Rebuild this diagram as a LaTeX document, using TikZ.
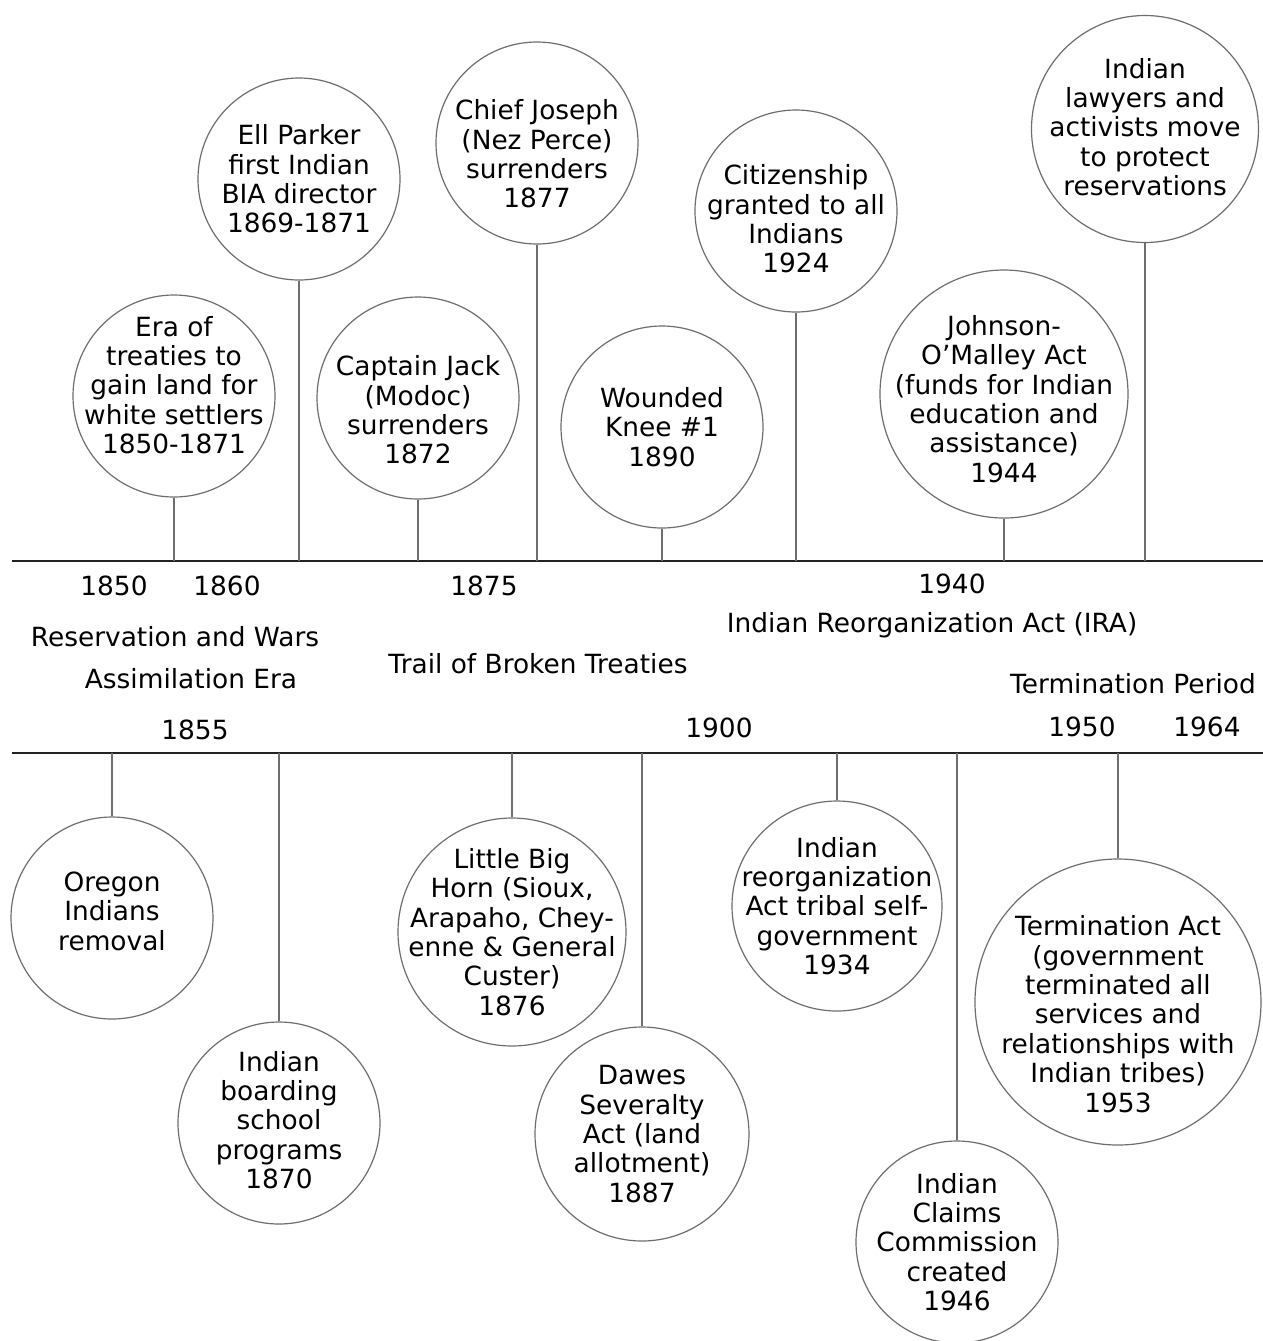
\documentclass[tikz,border=0pt]{standalone}
\usepackage{fontspec}
\setmainfont{DejaVu Sans}
\usetikzlibrary{positioning}
\definecolor{ringgray}{RGB}{110,110,110}
\definecolor{axisblack}{RGB}{35,35,35}

\begin{document}
\begin{tikzpicture}[x=0.5pt, y=-0.5pt,
  event/.style={circle, draw=ringgray, line width=0.6pt, fill=white,
    inner sep=0pt, minimum size=#1},
  event/.default=101pt,
  eventtext/.style={align=center, inner sep=0pt, font=\fontsize{13.2}{14.7}\selectfont},
  stem/.style={draw=ringgray, line width=0.7pt},
  timeline/.style={draw=axisblack, line width=1.3pt},
  tag/.style={inner sep=0pt, font=\fontsize{13.2}{14.7}\selectfont}]

  \useasboundingbox[fill=white] (0,0) rectangle (1263,1341);

  % the two time lines
  \coordinate (topL) at (12,561);
  \coordinate (topR) at (1263,561);
  \coordinate (botL) at (12,753);
  \coordinate (botR) at (1263,753);
  \draw[timeline] (topL) -- (topR);
  \draw[timeline] (botL) -- (botR);

  % events above
  \node[event, label={[eventtext, yshift=5.5pt]center:{Era of\\treaties to\\gain land for\\white settlers\\1850-1871}}] (era) at (174,396) {};
  \node[event, label={[eventtext]center:{Ell Parker\\first Indian\\BIA director\\1869-1871}}] (parker) at (299,179) {};
  \node[event, label={[eventtext, yshift=-6pt]center:{Captain Jack\\(Modoc)\\surrenders\\1872}}] (jack) at (418,398) {};
  \node[event, label={[eventtext, yshift=-5.5pt]center:{Chief Joseph\\(Nez Perce)\\surrenders\\1877}}] (joseph) at (537,143) {};
  \node[event, label={[eventtext]center:{Wounded\\Knee \#1\\1890}}] (knee) at (662,427) {};
  \node[event, label={[eventtext, yshift=-4pt]center:{Citizenship\\granted to all\\Indians\\1924}}] (citizen) at (796,211) {};
  \node[event=124pt, label={[eventtext, yshift=-2.5pt]center:{Johnson-\\O'Malley Act\\(funds for Indian\\education and\\assistance)\\1944}}] (omalley) at (1004,394) {};
  \node[event=113.5pt, label={[eventtext, yshift=1pt]center:{Indian\\lawyers and\\activists move\\to protect\\reservations}}] (lawyers) at (1145,129) {};

  % events below
  \node[event, label={[eventtext, yshift=3.5pt]center:{Oregon\\Indians\\removal}}] (oregon) at (112,918) {};
  \node[event, label={[eventtext, yshift=1.5pt]center:{Indian\\boarding\\school\\programs\\1870}}] (boarding) at (279,1123) {};
  \node[event=114pt, label={[eventtext]center:{Little Big\\Horn (Sioux,\\Arapaho, Chey-\\enne \& General\\Custer)\\1876}}] (bighorn) at (512,932) {};
  \node[event=107pt, label={[eventtext]center:{Dawes\\Severalty\\Act (land\\allotment)\\1887}}] (dawes) at (642,1134) {};
  \node[event=105pt, label={[eventtext]center:{Indian\\reorganization\\Act tribal self-\\government\\1934}}] (reorg) at (837,906) {};
  \node[event, label={[eventtext]center:{Indian\\Claims\\Commission\\created\\1946}}] (claims) at (957,1242) {};
  \node[event=143pt, label={[eventtext, yshift=-6pt]center:{Termination Act\\(government\\terminated all\\services and\\relationships with\\Indian tribes)\\1953}}] (termact) at (1118,1002) {};

  % stems
  \foreach \ev in {era, parker, jack, joseph, knee, citizen, omalley, lawyers}
    \draw[stem] (\ev.south) -- (\ev.south |- topL);
  \foreach \ev in {oregon, boarding, bighorn, dawes, reorg, claims, termact}
    \draw[stem] (\ev.north) -- (\ev.north |- botL);

  % years and periods
  \node[tag] (y1850) at (114,586) {1850};
  \node[tag] (y1860) at (227,586) {1860};
  \node[tag] (y1875) at (484,586) {1875};
  \node[tag] (y1940) at (952,584) {1940};
  \node[tag] (reswars) at (175,637) {Reservation and Wars};
  \node[tag] (assim) at (191,679) {Assimilation Era};
  \node[tag] (trail) at (538,664) {Trail of Broken Treaties};
  \node[tag] (ira) at (932,625) {Indian Reorganization Act (IRA)};
  \node[tag] (termper) at (1133,684) {Termination Period};
  \node[tag] (y1855) at (195,730) {1855};
  \node[tag] (y1900) at (719,728) {1900};
  \node[tag] (y1950) at (1082,727) {1950};
  \node[tag] (y1964) at (1207,727) {1964};
\end{tikzpicture}
\end{document}
